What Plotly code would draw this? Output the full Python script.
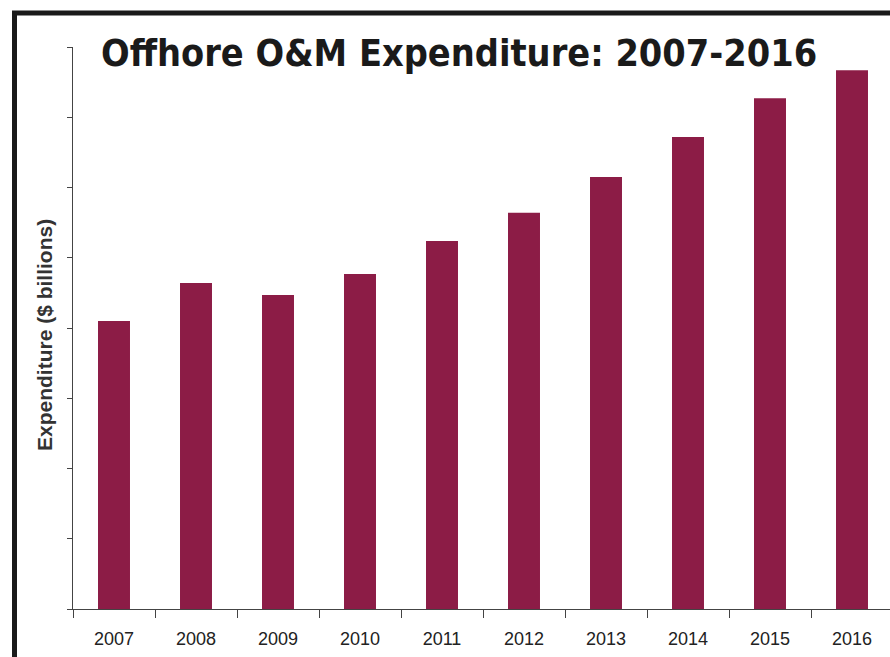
import plotly.graph_objects as go

years = ["2007", "2008", "2009", "2010", "2011", "2012", "2013", "2014", "2015", "2016"]
expenditure = [4.10, 4.64, 4.47, 4.77, 5.24, 5.64, 6.15, 6.72, 7.27, 7.67]

W, H = 890, 657
L, T, B = 73, 47, 48
plot_w = W - L
plot_h = H - T - B

fig = go.Figure(go.Bar(
    x=years, y=expenditure,
    marker=dict(color="#8C1C46", line=dict(width=0)),
    width=0.39,
))

fig.update_layout(
    width=W, height=H,
    margin=dict(l=L, r=0, t=T, b=B),
    paper_bgcolor="white", plot_bgcolor="white",
    showlegend=False,
    title=dict(
        text='<span style="font-stretch:condensed">Offhore O&M Expenditure: 2007-2016</span>',
        font=dict(family="DejaVu Sans Condensed, DejaVu Sans, sans-serif",
                  size=37.5, color="#1a1a1a", weight="bold"),
        xref="container", yref="container",
        x=101 / W, xanchor="left",
        y=1 - 40 / H, yanchor="top",
    ),
    xaxis=dict(
        type="category",
        range=[-0.5, -0.5 + plot_w / 82.0],
        showline=True, linecolor="#444", linewidth=1,
        ticks="outside", tickson="boundaries", ticklen=8, tickcolor="#444",
        tickfont=dict(family="Liberation Sans, Arial, sans-serif", size=18, color="#222"),
        ticklabelstandoff=13,
        showgrid=False, zeroline=False,
    ),
    yaxis=dict(
        range=[0, 8], dtick=1,
        showline=True, linecolor="#444", linewidth=1,
        ticks="outside", ticklen=5, tickcolor="#444",
        showticklabels=False, showgrid=False, zeroline=False,
    ),
    annotations=[dict(
        text="Expenditure ($ billions)",
        xref="paper", yref="paper",
        x=(44 - L) / plot_w, y=(609 - 335) / plot_h,
        xanchor="center", yanchor="middle",
        textangle=-90, showarrow=False,
        font=dict(family="Liberation Sans, Arial, sans-serif", size=21, color="#333", weight="bold"),
    )],
    shapes=[dict(
        type="rect", xref="paper", yref="paper",
        x0=(14.5 - L) / plot_w, x1=1.2,
        y0=-0.3, y1=(609 - 13) / plot_h,
        line=dict(color="#1a1a1a", width=5),
        fillcolor="rgba(0,0,0,0)", layer="above",
    )],
)

fig.write_html("out.html")
